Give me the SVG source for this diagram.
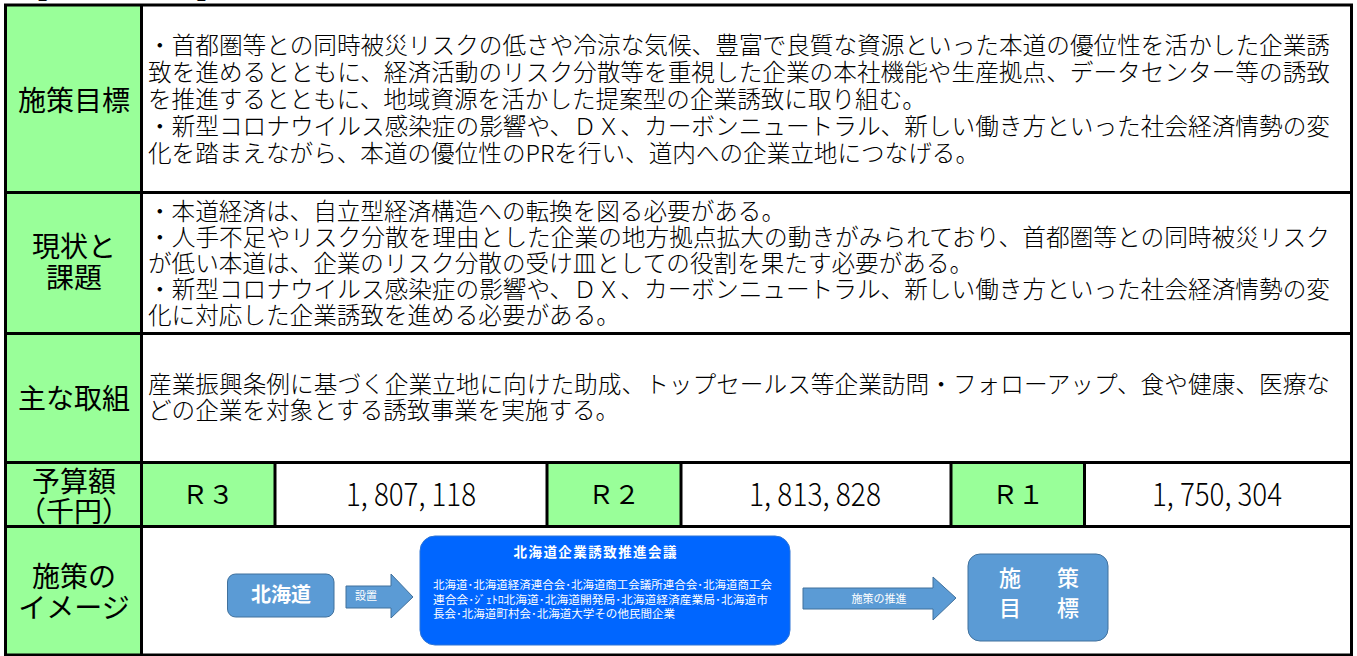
<svg xmlns="http://www.w3.org/2000/svg" width="1357" height="656" viewBox="0 0 1357 656">
<style>
.g{fill:#99FF99}
.w{fill:#FFFFFF}
.ln{stroke:#000;stroke-width:3;fill:none}
.lab{font-family:"Noto Sans CJK JP","Noto Sans",sans-serif;font-size:28px;fill:#000;text-anchor:middle;font-weight:400}
.body{font-family:"Noto Sans CJK JP","Noto Sans",sans-serif;font-size:23.6px;fill:#000;font-weight:300}
.rr{font-family:"Noto Sans CJK JP","Noto Sans",sans-serif;font-size:26px;fill:#000;text-anchor:middle;font-weight:400}
.num{font-family:"Noto Sans CJK JP","Noto Sans",sans-serif;font-size:32px;fill:#000;text-anchor:middle;font-weight:300}
.lb{fill:#5B9BD5;stroke:#41719C;stroke-width:1}
.wt{font-family:"Noto Sans CJK JP","Noto Sans",sans-serif;fill:#FFFFFF}
</style>

<!-- cut-off title bracket fragments -->
<text x="20" y="-1" style="font-family:'Noto Sans CJK JP',sans-serif;font-size:28px;fill:#000">【</text>
<text x="196" y="-1" style="font-family:'Noto Sans CJK JP',sans-serif;font-size:28px;fill:#000">】</text>

<!-- backgrounds -->
<rect class="w" x="5.5" y="5" width="1346" height="650"/>
<rect class="g" x="5.5" y="5" width="136" height="650"/>
<rect class="g" x="141.5" y="462.5" width="133.5" height="64"/>
<rect class="g" x="547" y="462.5" width="134" height="64"/>
<rect class="g" x="951" y="462.5" width="133.5" height="64"/>

<!-- grid -->
<g id="grid">
<rect class="ln" x="5.5" y="5" width="1346" height="650"/>
<line class="ln" x1="141.5" y1="5" x2="141.5" y2="655"/>
<line class="ln" x1="5.5" y1="192.5" x2="1351.5" y2="192.5"/>
<line class="ln" x1="5.5" y1="333.5" x2="1351.5" y2="333.5"/>
<line class="ln" x1="5.5" y1="462.5" x2="1351.5" y2="462.5"/>
<line class="ln" x1="5.5" y1="526.5" x2="1351.5" y2="526.5"/>
<line class="ln" x1="275" y1="462.5" x2="275" y2="526.5"/>
<line class="ln" x1="547" y1="462.5" x2="547" y2="526.5"/>
<line class="ln" x1="681" y1="462.5" x2="681" y2="526.5"/>
<line class="ln" x1="951" y1="462.5" x2="951" y2="526.5"/>
<line class="ln" x1="1084.5" y1="462.5" x2="1084.5" y2="526.5"/>
</g>

<!-- row 1 -->
<g id="row-goal">
<text class="lab" x="74" y="110.6">施策目標</text>
<text class="body" x="148" y="54" textLength="1182" lengthAdjust="spacingAndGlyphs">・首都圏等との同時被災リスクの低さや冷涼な気候、豊富で良質な資源といった本道の優位性を活かした企業誘</text>
<text class="body" x="148" y="81" textLength="1182" lengthAdjust="spacingAndGlyphs">致を進めるとともに、経済活動のリスク分散等を重視した企業の本社機能や生産拠点、データセンター等の誘致</text>
<text class="body" x="148" y="108">を推進するとともに、地域資源を活かした提案型の企業誘致に取り組む。</text>
<text class="body" x="148" y="135" textLength="1182" lengthAdjust="spacingAndGlyphs">・新型コロナウイルス感染症の影響や、ＤＸ、カーボンニュートラル、新しい働き方といった社会経済情勢の変</text>
<text class="body" x="148" y="162">化を踏まえながら、本道の優位性のPRを行い、道内への企業立地につなげる。</text>
</g>

<!-- row 2 -->
<g id="row-status">
<text class="lab" x="74" y="257">現状と</text>
<text class="lab" x="74" y="288">課題</text>
<text class="body" x="148" y="220">・本道経済は、自立型経済構造への転換を図る必要がある。</text>
<text class="body" x="148" y="246" textLength="1182" lengthAdjust="spacingAndGlyphs">・人手不足やリスク分散を理由とした企業の地方拠点拡大の動きがみられており、首都圏等との同時被災リスク</text>
<text class="body" x="148" y="272">が低い本道は、企業のリスク分散の受け皿としての役割を果たす必要がある。</text>
<text class="body" x="148" y="298" textLength="1182" lengthAdjust="spacingAndGlyphs">・新型コロナウイルス感染症の影響や、ＤＸ、カーボンニュートラル、新しい働き方といった社会経済情勢の変</text>
<text class="body" x="148" y="324">化に対応した企業誘致を進める必要がある。</text>
</g>

<!-- row 3 -->
<g id="row-actions">
<text class="lab" x="74" y="408.5">主な取組</text>
<text class="body" x="148" y="393" textLength="1182" lengthAdjust="spacingAndGlyphs">産業振興条例に基づく企業立地に向けた助成、トップセールス等企業訪問・フォローアップ、食や健康、医療な</text>
<text class="body" x="148" y="419">どの企業を対象とする誘致事業を実施する。</text>
</g>

<!-- row 4 -->
<g id="row-budget">
<text class="lab" x="74" y="491.5">予算額</text>
<text class="lab" x="74" y="521.5">（千円）</text>
<text class="rr" x="208" y="503.5">Ｒ３</text>
<text class="num" x="411" y="505.5" textLength="130" lengthAdjust="spacingAndGlyphs">1, 807, 118</text>
<text class="rr" x="614" y="503.5">Ｒ２</text>
<text class="num" x="815" y="505.5" textLength="132" lengthAdjust="spacingAndGlyphs">1, 813, 828</text>
<text class="rr" x="1018" y="503.5">Ｒ１</text>
<text class="num" x="1217" y="505.5" textLength="130" lengthAdjust="spacingAndGlyphs">1, 750, 304</text>
</g>

<!-- row 5 label -->
<g id="row-image">
<text class="lab" x="74" y="586.6">施策の</text>
<text class="lab" x="74" y="617.6">イメージ</text>
</g>

<g id="node-hokkaido">
<rect class="lb" x="227.5" y="574" width="106.5" height="43" rx="8"/>
<text class="wt" x="281" y="602" text-anchor="middle" style="font-size:20px;font-weight:bold">北海道</text>
</g>

<g id="node-council">
<rect x="420" y="536" width="370" height="109" rx="15" fill="#0066FF" stroke="#2E75D6" stroke-width="1"/>
<text class="wt" x="595" y="556.5" text-anchor="middle" textLength="163" lengthAdjust="spacing" style="font-size:13.5px;font-weight:bold">北海道企業誘致推進会議</text>
<text class="wt" x="433" y="589" textLength="339" lengthAdjust="spacingAndGlyphs" style="font-size:11px">北海道･北海道経済連合会･北海道商工会議所連合会･北海道商工会</text>
<text class="wt" x="433" y="604" textLength="335" lengthAdjust="spacingAndGlyphs" style="font-size:11px">連合会･ｼﾞｪﾄﾛ北海道･北海道開発局･北海道経済産業局･北海道市</text>
<text class="wt" x="433" y="618" textLength="242" lengthAdjust="spacingAndGlyphs" style="font-size:11px">長会･北海道町村会･北海道大学その他民間企業</text>
</g>

<g id="node-goal">
<rect class="lb" x="968" y="554" width="140" height="87" rx="12"/>
<text class="wt" x="1010" y="586" text-anchor="middle" style="font-size:22px;font-weight:500">施</text>
<text class="wt" x="1068" y="586" text-anchor="middle" style="font-size:22px;font-weight:500">策</text>
<text class="wt" x="1010" y="616" text-anchor="middle" style="font-size:22px;font-weight:500">目</text>
<text class="wt" x="1068" y="616" text-anchor="middle" style="font-size:22px;font-weight:500">標</text>
</g>

<g id="connectors">
<polygon class="lb" points="346,586 391,586 391,574 413,597 391,618 391,608 346,608"/>
<text class="wt" x="366" y="600" text-anchor="middle" style="font-size:11px">設置</text>
<polygon class="lb" points="803,588 933,588 933,577 956,598 933,620 933,609 803,609"/>
<text class="wt" x="879" y="603" text-anchor="middle" style="font-size:11px">施策の推進</text>
</g>
</svg>
